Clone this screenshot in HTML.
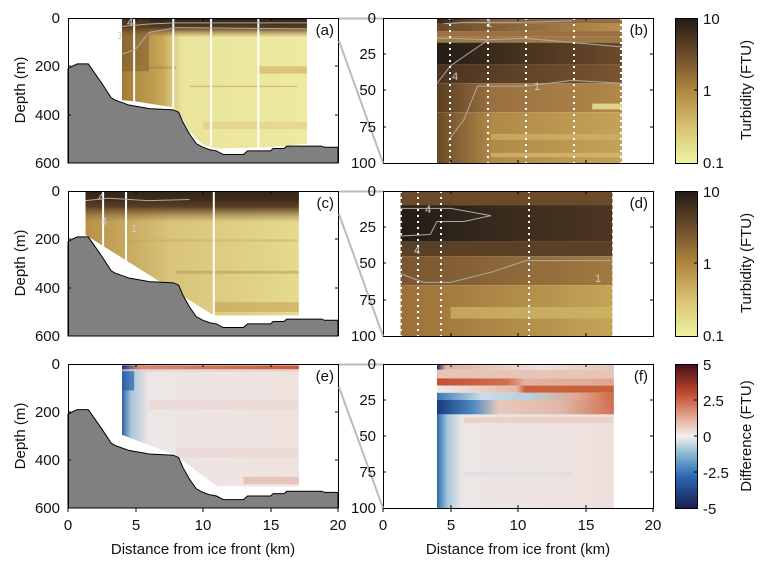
<!DOCTYPE html>
<html><head><meta charset="utf-8"><style>
html,body{margin:0;padding:0;background:#fff;}
svg{display:block;font-family:"Liberation Sans",Arial,sans-serif;}
</style></head><body>
<svg width="767" height="567" viewBox="0 0 767 567" xmlns="http://www.w3.org/2000/svg">
<defs>
<linearGradient id="cbT" x1="0" y1="1" x2="0" y2="0">
<stop offset="0" stop-color="#eef2a4"/><stop offset="0.25" stop-color="#d8c272"/><stop offset="0.5" stop-color="#b08840"/><stop offset="0.75" stop-color="#6e4c2a"/><stop offset="1" stop-color="#231c16"/>
</linearGradient>
<linearGradient id="cbD" x1="0" y1="1" x2="0" y2="0">
<stop offset="0" stop-color="#1c1f4e"/><stop offset="0.22" stop-color="#2a68b4"/><stop offset="0.38" stop-color="#8ab8d0"/><stop offset="0.5" stop-color="#f2f0ee"/><stop offset="0.65" stop-color="#e0a088"/><stop offset="0.8" stop-color="#c04a30"/><stop offset="1" stop-color="#4a0f1a"/>
</linearGradient>
<linearGradient id="aH" x1="0" y1="0" x2="1" y2="0">
<stop offset="0" stop-color="#a47c38"/><stop offset="0.22" stop-color="#c8a858"/><stop offset="0.32" stop-color="#eae49c"/><stop offset="1" stop-color="#eeeaa2"/>
</linearGradient>
<linearGradient id="cH" x1="0" y1="0" x2="1" y2="0">
<stop offset="0" stop-color="#b89048"/><stop offset="0.4" stop-color="#d8c47a"/><stop offset="1" stop-color="#e4da90"/>
</linearGradient>
<linearGradient id="topV" x1="0" y1="0" x2="0" y2="1">
<stop offset="0" stop-color="#2a2018"/><stop offset="0.5" stop-color="#5a3e22"/><stop offset="1" stop-color="#9a7040" stop-opacity="0"/>
</linearGradient>
<linearGradient id="eH" x1="0" y1="0" x2="1" y2="0">
<stop offset="0" stop-color="#2a60a8"/><stop offset="0.05" stop-color="#a8c4d8"/><stop offset="0.15" stop-color="#ece6e6"/><stop offset="1" stop-color="#efe2de"/>
</linearGradient>
<linearGradient id="eTop" x1="0" y1="0" x2="1" y2="0">
<stop offset="0" stop-color="#1a3a80"/><stop offset="0.1" stop-color="#d88a70"/><stop offset="1" stop-color="#c85a3a"/>
</linearGradient>
</defs>

<!-- ========== ROW 1 (a) ========== -->
<g transform="translate(68,18) scale(13.5,0.24167)">
  <polygon points="4,0 17.7,0 17.7,520 15,535 11,540 10,525 9,470 8.3,400 7.8,370 5,345 4,340" fill="url(#aH)"/>
  <rect x="4" y="0" width="13.7" height="80" fill="url(#topV)"/>
  <rect x="4" y="0" width="2" height="220" fill="#6a4828" opacity="0.4"/>
  <rect x="4" y="200" width="4" height="10" fill="#a07838" opacity="0.4"/>
  <rect x="9" y="280" width="8" height="6" fill="#b0803a" opacity="0.4"/>
  <rect x="14" y="200" width="3.7" height="30" fill="#c8a050" opacity="0.5"/>
  <rect x="10" y="430" width="7.7" height="30" fill="#d8c070" opacity="0.4"/>
  <g stroke="#fff" stroke-width="2" vector-effect="non-scaling-stroke">
    <line x1="4.9" y1="0" x2="4.9" y2="345" vector-effect="non-scaling-stroke"/>
    <line x1="7.8" y1="0" x2="7.8" y2="370" vector-effect="non-scaling-stroke"/>
    <line x1="10.6" y1="0" x2="10.6" y2="530" vector-effect="non-scaling-stroke"/>
    <line x1="14.1" y1="0" x2="14.1" y2="540" vector-effect="non-scaling-stroke"/>
  </g>
  <polyline points="4,35 6,25 8,20 17.7,20" fill="none" stroke="#aaa" stroke-width="1" vector-effect="non-scaling-stroke"/>
  <polyline points="4,150 5,130 6,60 8,40 17.7,45" fill="none" stroke="#aaa" stroke-width="1" vector-effect="non-scaling-stroke"/>
  <polygon points="0,210 0.3,200 0.7,190 1.5,190 2,230 2.5,270 3.2,330 3.5,340 4,350 4.5,360 5.5,370 6,375 7.8,380 8.2,390 8.5,430 9,480 9.5,520 10,535 10.5,545 11,550 11.5,565 13,565 13.3,550 15,550 15.2,540 16,540 16.2,530 18.8,530 19,535 20,535 20,600 0,600" fill="#808080" stroke="#000" stroke-width="1" vector-effect="non-scaling-stroke"/>
</g>

<!-- ========== ROW 2 (c) ========== -->
<g transform="translate(68,191) scale(13.5,0.24167)">
  <polygon points="1.3,0 17.1,0 17.1,515 10.8,515 1.3,182" fill="url(#cH)"/>
  <rect x="1.3" y="0" width="15.8" height="130" fill="url(#topV)"/>
  <rect x="1.3" y="0" width="15.8" height="40" fill="#3a2a1c" opacity="0.6"/>
  <rect x="8" y="330" width="9.1" height="12" fill="#b08840" opacity="0.4"/>
  <rect x="10.8" y="460" width="6.3" height="40" fill="#c09040" opacity="0.45"/>
  <rect x="3" y="200" width="14" height="10" fill="#c8a050" opacity="0.35"/>
  <g stroke="#fff" stroke-width="2">
    <line x1="2.6" y1="0" x2="2.6" y2="250" vector-effect="non-scaling-stroke"/>
    <line x1="4.3" y1="0" x2="4.3" y2="305" vector-effect="non-scaling-stroke"/>
    <line x1="10.8" y1="0" x2="10.8" y2="515" vector-effect="non-scaling-stroke"/>
  </g>
  <polyline points="1.3,40 3,30 6,40 9,35" fill="none" stroke="#aaa" stroke-width="1" vector-effect="non-scaling-stroke"/>
  <polygon points="0,210 0.3,200 0.7,190 1.5,190 2,230 2.5,270 3.2,330 3.5,340 4,350 4.5,360 5.5,370 6,375 7.8,380 8.2,390 8.5,430 9,480 9.5,520 10,535 10.5,545 11,550 11.5,565 13,565 13.3,550 15,550 15.2,540 16,540 16.2,530 18.8,530 19,535 20,535 20,600 0,600" fill="#808080" stroke="#000" stroke-width="1" vector-effect="non-scaling-stroke"/>
</g>

<!-- ========== ROW 3 (e) ========== -->
<g transform="translate(68,364) scale(13.5,0.24)">
  <polygon points="4,0 17.1,0 17.1,510 11,510 8,380 4,295" fill="url(#eH)"/>
  <rect x="4" y="0" width="13.1" height="8" fill="#c8583a" opacity="0.5"/>
  <rect x="4" y="8" width="13.1" height="14" fill="url(#eTop)"/>
  <rect x="4" y="22" width="13.1" height="10" fill="#e8c8c0" opacity="0.6"/>
  <rect x="4" y="30" width="0.9" height="80" fill="#2a60a8" opacity="0.7"/>
  <rect x="6" y="150" width="11" height="40" fill="#e8d0cc" opacity="0.5"/>
  <rect x="8" y="350" width="9" height="40" fill="#e8d0cc" opacity="0.5"/>
  <rect x="13" y="470" width="4.1" height="30" fill="#e0b0a0" opacity="0.6"/>
  <polygon points="0,210 0.3,200 0.7,190 1.5,190 2,230 2.5,270 3.2,330 3.5,340 4,350 4.5,360 5.5,370 6,375 7.8,380 8.2,390 8.5,430 9,480 9.5,520 10,535 10.5,545 11,550 11.5,565 13,565 13.3,550 15,550 15.2,540 16,540 16.2,530 18.8,530 19,535 20,535 20,600 0,600" fill="#808080" stroke="#000" stroke-width="1" vector-effect="non-scaling-stroke"/>
</g>

<!-- ========== (b) ========== -->
<defs>
<linearGradient id="b1" x1="0" x2="1"><stop offset="0" stop-color="#3a2a1c"/><stop offset="0.3" stop-color="#8a6035"/><stop offset="1" stop-color="#9a7040"/></linearGradient>
<linearGradient id="b2" x1="0" x2="1"><stop offset="0" stop-color="#6b4a2a"/><stop offset="1" stop-color="#b89050"/></linearGradient>
<linearGradient id="b3" x1="0" x2="1"><stop offset="0" stop-color="#231c16"/><stop offset="0.5" stop-color="#4a3520"/><stop offset="1" stop-color="#6b4a2a"/></linearGradient>
<linearGradient id="b4" x1="0" x2="1"><stop offset="0" stop-color="#4a3420"/><stop offset="1" stop-color="#7a5530"/></linearGradient>
<linearGradient id="b5" x1="0" x2="1"><stop offset="0" stop-color="#5a3e22"/><stop offset="0.3" stop-color="#9a7040"/><stop offset="1" stop-color="#b08848"/></linearGradient>
<linearGradient id="b6" x1="0" x2="1"><stop offset="0" stop-color="#6b4a28"/><stop offset="0.3" stop-color="#b08a48"/><stop offset="1" stop-color="#c4a258"/></linearGradient>
</defs>
<g transform="translate(383,18) scale(13.5,1.45)">
  <rect x="4" y="0" width="13.7" height="4" fill="url(#b1)"/>
  <rect x="4" y="4" width="13.7" height="5" fill="url(#b2)"/>
  <rect x="4" y="9" width="13.7" height="4" fill="#9c7040"/>
  <rect x="4" y="13" width="13.7" height="4" fill="#a07844"/>
  <rect x="4" y="17" width="13.7" height="15" fill="url(#b3)"/>
  <rect x="4" y="32" width="13.7" height="13" fill="url(#b4)"/>
  <rect x="4" y="45" width="13.7" height="20" fill="url(#b5)"/>
  <rect x="15.5" y="59" width="2.2" height="4" fill="#e0d48a"/>
  <rect x="4" y="65" width="13.7" height="35" fill="url(#b6)"/>
  <rect x="8" y="80" width="9.7" height="4" fill="#cfb468" opacity="0.7"/>
  <rect x="8" y="93" width="9.7" height="3" fill="#d4bc70" opacity="0.7"/>
  <polyline points="4,14 5,14 7.8,15 10.5,14 17.7,20" fill="none" stroke="#aaa" stroke-width="1" vector-effect="non-scaling-stroke"/>
  <polyline points="7.8,15 5,33 4,45" fill="none" stroke="#aaa" stroke-width="1" vector-effect="non-scaling-stroke"/>
  <polyline points="4.8,85 6,70 7,47 10.6,47 14,43 17.7,45" fill="none" stroke="#aaa" stroke-width="1" vector-effect="non-scaling-stroke"/>
  <polyline points="4.5,4 6,3 10,3 14,2" fill="none" stroke="#aaa" stroke-width="1" vector-effect="non-scaling-stroke"/>
</g>
<g fill="none" stroke="#fff" stroke-width="2" stroke-dasharray="2,4">
  <line x1="450" y1="18" x2="450" y2="163"/><line x1="488" y1="18" x2="488" y2="163"/>
  <line x1="526" y1="18" x2="526" y2="163"/><line x1="574" y1="18" x2="574" y2="163"/>
  <line x1="621" y1="18" x2="621" y2="163"/>
</g>

<!-- ========== (d) ========== -->
<defs>
<linearGradient id="d2" x1="0" x2="1"><stop offset="0" stop-color="#231c16"/><stop offset="0.6" stop-color="#3e2e1e"/><stop offset="1" stop-color="#4a3520"/></linearGradient>
<linearGradient id="d4" x1="0" x2="1"><stop offset="0" stop-color="#7a5530"/><stop offset="1" stop-color="#a07a40"/></linearGradient>
<linearGradient id="d5" x1="0" x2="1"><stop offset="0" stop-color="#9a7038"/><stop offset="1" stop-color="#c4a458"/></linearGradient>
</defs>
<g transform="translate(383,191) scale(13.5,1.45)">
  <rect x="1.3" y="0" width="15.7" height="10" fill="#6b4a2a"/>
  <rect x="1.3" y="10" width="15.7" height="25" fill="url(#d2)"/>
  <rect x="1.3" y="35" width="15.7" height="10" fill="#5a4025"/>
  <rect x="1.3" y="45" width="15.7" height="20" fill="url(#d4)"/>
  <rect x="1.3" y="65" width="15.7" height="35" fill="url(#d5)"/>
  <rect x="5" y="80" width="12" height="8" fill="#d0b868" opacity="0.7"/>
  <polyline points="1.3,12 5,12 8,17 6,21 4,21 3.5,30 1.3,31" fill="none" stroke="#aaa" stroke-width="1" vector-effect="non-scaling-stroke"/>
  <polyline points="1.3,57 3,63 5,63 8,56 10.6,48 17,48" fill="none" stroke="#aaa" stroke-width="1" vector-effect="non-scaling-stroke"/>
</g>
<g fill="none" stroke="#fff" stroke-width="2" stroke-dasharray="2,4">
  <line x1="418" y1="191" x2="418" y2="336"/><line x1="441" y1="191" x2="441" y2="336"/>
  <line x1="529" y1="191" x2="529" y2="336"/><line x1="613" y1="191" x2="613" y2="336"/>
  <line x1="401" y1="191" x2="401" y2="336"/>
</g>

<!-- ========== (f) ========== -->
<defs>
<linearGradient id="f1" x1="0" x2="1"><stop offset="0" stop-color="#1a2a60"/><stop offset="0.05" stop-color="#e0b0a0"/><stop offset="0.6" stop-color="#ece0dc"/><stop offset="1" stop-color="#e4c4b8"/></linearGradient>
<linearGradient id="f3" x1="0" x2="1"><stop offset="0" stop-color="#c4502e"/><stop offset="0.4" stop-color="#d07050"/><stop offset="0.5" stop-color="#e4b0a0"/><stop offset="1" stop-color="#e0a890"/></linearGradient>
<linearGradient id="f4" x1="0" x2="1"><stop offset="0" stop-color="#f0e8e8"/><stop offset="0.45" stop-color="#e4b8a8"/><stop offset="0.5" stop-color="#c8603a"/><stop offset="1" stop-color="#c8603a"/></linearGradient>
<linearGradient id="f5" x1="0" x2="1"><stop offset="0" stop-color="#3a7ab8"/><stop offset="0.25" stop-color="#c8dce8"/><stop offset="0.5" stop-color="#b8d0e0"/><stop offset="0.8" stop-color="#e0a890"/><stop offset="1" stop-color="#d06848"/></linearGradient>
<linearGradient id="f6" x1="0" x2="1"><stop offset="0" stop-color="#1a3a80"/><stop offset="0.2" stop-color="#4a88c0"/><stop offset="0.35" stop-color="#e8c8bc"/><stop offset="0.7" stop-color="#e0b8a8"/><stop offset="1" stop-color="#d07050"/></linearGradient>
<linearGradient id="f7" x1="0" x2="1"><stop offset="0" stop-color="#2a6ab0"/><stop offset="0.06" stop-color="#a8c8dc"/><stop offset="0.14" stop-color="#ece6e6"/><stop offset="1" stop-color="#eee0dc"/></linearGradient>
</defs>
<g transform="translate(383,364) scale(13.5,1.44)">
  <rect x="4" y="0" width="13.1" height="4" fill="url(#f1)"/>
  <rect x="4" y="4" width="13.1" height="6" fill="#e6c4b6"/>
  <rect x="4" y="10" width="13.1" height="5" fill="url(#f3)"/>
  <rect x="4" y="15" width="13.1" height="5" fill="url(#f4)"/>
  <rect x="4" y="20" width="13.1" height="5" fill="url(#f5)"/>
  <rect x="4" y="25" width="13.1" height="10" fill="url(#f6)"/>
  <rect x="4" y="35" width="13.1" height="65" fill="url(#f7)"/>
  <rect x="6" y="37" width="11" height="4" fill="#e8c8bc" opacity="0.7"/>
  <rect x="6" y="75" width="8" height="3" fill="#d4e0e8" opacity="0.6"/>
</g>

<!-- ========== Axes frames, ticks ========== -->
<g fill="none" stroke="#000" stroke-width="1">
  <path d="M68.5,163 V18.5 H338.5 V163"/>
  <path d="M68.5,336 V191.5 H338.5 V336"/>
  <path d="M68.5,508 V364.5 H338.5 V508"/>
  <rect x="383.5" y="18.5" width="270" height="145"/>
  <rect x="383.5" y="191.5" width="270" height="145"/>
  <rect x="383.5" y="364.5" width="270" height="144"/>
  <rect x="675.5" y="18.5" width="22" height="145"/>
  <rect x="675.5" y="191.5" width="22" height="145"/>
  <rect x="675.5" y="364.5" width="22" height="144"/>
</g>
<rect x="676" y="19" width="21" height="144" fill="url(#cbT)"/>
<rect x="676" y="192" width="21" height="144" fill="url(#cbT)"/>
<rect x="676" y="365" width="21" height="143" fill="url(#cbD)"/>
<g stroke="#000" stroke-width="1">
  <path d="M136,18v3M203,18v3M271,18v3M136,191v3M203,191v3M271,191v3M136,364v3M203,364v3M271,364v3"/>
  <path d="M451,18v3M518,18v3M586,18v3M451,163v-3M518,163v-3M586,163v-3
           M451,191v3M518,191v3M586,191v3M451,336v-3M518,336v-3M586,336v-3
           M451,364v3M518,364v3M586,364v3M451,508v-3M518,508v-3M586,508v-3"/>
  <path d="M68,508v4M136,508v4M203,508v4M271,508v4M338,508v4M383,508v4M451,508v4M518,508v4M586,508v4M653,508v4"/>
  <path d="M68,66h3M68,115h3M338,66h-3M338,115h-3M68,239h3M68,288h3M338,239h-3M338,288h-3M68,412h3M68,460h3M338,412h-3M338,460h-3"/>
  <path d="M383,54h3M383,90h3M383,127h3M653,54h-3M653,90h-3M653,127h-3
           M383,227h3M383,263h3M383,300h3M653,227h-3M653,263h-3M653,300h-3
           M383,400h3M383,436h3M383,472h3M653,400h-3M653,436h-3M653,472h-3"/>
  <path d="M697,90h-3M697,263h-3M697,400h-3M697,436h-3M697,472h-3"/>
</g>
<g stroke="#bbb" stroke-width="2" fill="none">
  <path d="M339,18.5H383M339,41L383,163"/>
  <path d="M339,191.5H383M339,214L383,336"/>
  <path d="M339,364.5H383M339,387L383,508"/>
</g>

<g font-size="15" fill="#111" text-anchor="end">
  <text x="60" y="23">0</text><text x="60" y="71">200</text><text x="60" y="120">400</text><text x="60" y="168">600</text>
  <text x="60" y="196">0</text><text x="60" y="244">200</text><text x="60" y="293">400</text><text x="60" y="341">600</text>
  <text x="60" y="369">0</text><text x="60" y="417">200</text><text x="60" y="465">400</text><text x="60" y="513">600</text>
  <text x="376" y="23">0</text><text x="376" y="59">25</text><text x="376" y="95">50</text><text x="376" y="132">75</text><text x="376" y="168">100</text>
  <text x="376" y="196">0</text><text x="376" y="232">25</text><text x="376" y="268">50</text><text x="376" y="305">75</text><text x="376" y="341">100</text>
  <text x="376" y="369">0</text><text x="376" y="405">25</text><text x="376" y="441">50</text><text x="376" y="477">75</text><text x="376" y="513">100</text>
</g>
<g font-size="15" fill="#111">
  <text x="703" y="24">10</text><text x="703" y="96">1</text><text x="703" y="168">0.1</text>
  <text x="703" y="197">10</text><text x="703" y="269">1</text><text x="703" y="341">0.1</text>
  <text x="703" y="370">5</text><text x="703" y="406">2.5</text><text x="703" y="442">0</text><text x="703" y="478">-2.5</text><text x="703" y="514">-5</text>
</g>
<g font-size="15" fill="#111" text-anchor="middle">
  <text x="68" y="530">0</text><text x="136" y="530">5</text><text x="203" y="530">10</text><text x="271" y="530">15</text><text x="338" y="530">20</text>
  <text x="383" y="530">0</text><text x="451" y="530">5</text><text x="518" y="530">10</text><text x="586" y="530">15</text><text x="653" y="530">20</text>
  <text x="203" y="554">Distance from ice front (km)</text>
  <text x="518" y="554">Distance from ice front (km)</text>
  <text transform="translate(25,90) rotate(-90)">Depth (m)</text>
  <text transform="translate(25,263) rotate(-90)">Depth (m)</text>
  <text transform="translate(25,436) rotate(-90)">Depth (m)</text>
  <text transform="translate(751,90) rotate(-90)">Turbidity (FTU)</text>
  <text transform="translate(751,263) rotate(-90)">Turbidity (FTU)</text>
  <text transform="translate(751,436) rotate(-90)">Difference (FTU)</text>
</g>
<g font-size="15" fill="#111" text-anchor="end">
  <text x="334" y="35">(a)</text><text x="648" y="35">(b)</text>
  <text x="334" y="208">(c)</text><text x="648" y="208">(d)</text>
  <text x="334" y="381">(e)</text><text x="648" y="381">(f)</text>
</g>
<g font-size="11" fill="#ccc">
  <text x="127" y="26">4</text><text x="117" y="39">1</text>
  <text x="486" y="27">1</text><text x="452" y="80">4</text><text x="534" y="90">1</text>
  <text x="425" y="213">4</text><text x="414" y="254">4</text><text x="595" y="282">1</text>
  <text x="98" y="201">4</text><text x="101" y="225">4</text><text x="131" y="232">1</text>
</g>
</svg>
</body></html>
